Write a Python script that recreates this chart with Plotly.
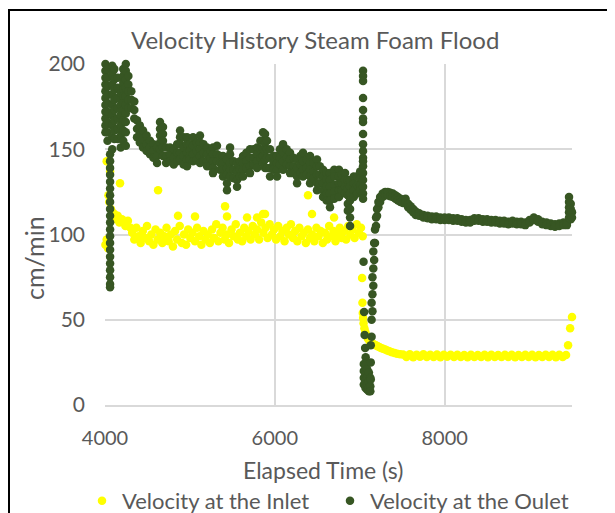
import plotly.graph_objects as go

# ---------------- data ----------------
outlet_time = [
    # start-up oscillation cluster
    4005, 4005, 4005, 4005, 4005, 4005, 4005, 4005, 4005, 4005, 4005,
    4030, 4030, 4030, 4030, 4030, 4030, 4030, 4030, 4030, 4030,
    4060, 4060, 4060, 4060, 4060, 4060, 4060, 4060, 4060, 4060, 4060, 4060, 4060, 4060, 4060, 4060, 4060, 4060, 4060, 4060, 4060,
    4085, 4085, 4085, 4085, 4085, 4085, 4085, 4085, 4085,
    4110, 4110, 4110, 4110, 4110, 4110, 4110, 4110,
    4150, 4150, 4150, 4150, 4150, 4150, 4150,
    4185, 4185, 4185, 4185, 4185, 4185,
    4215, 4215, 4215, 4215, 4215, 4215, 4215, 4215, 4215, 4215, 4215,
    4245, 4245, 4245, 4245, 4245, 4245, 4245, 4245, 4245, 4245,
    4275, 4275, 4275, 4275, 4275,
    # noisy decline
    4310, 4310, 4310, 4345, 4345, 4345, 4377, 4377, 4377, 4410, 4410, 4410,
    4448, 4448, 4448, 4490, 4490, 4490, 4530, 4530, 4530, 4570, 4570, 4570,
    4613, 4613, 4613, 4648, 4648, 4648, 4648, 4648, 4683, 4683, 4683, 4683, 4683,
    4720, 4720, 4720, 4766, 4766, 4766, 4810, 4810, 4810, 4850, 4850, 4850,
    4884, 4884, 4884, 4884, 4884, 4925, 4925, 4925, 4925, 4966, 4966, 4966, 4966, 4966,
    5000, 5000, 5000, 5000, 5037, 5037, 5037, 5037, 5080, 5080, 5080,
    5119, 5119, 5119, 5119, 5119, 5160, 5160, 5160, 5202, 5202, 5202, 5202, 5240, 5240, 5240,
    5272, 5272, 5272, 5272, 5272, 5319, 5319, 5319, 5355, 5355, 5355,
    5390, 5390, 5390, 5390, 5437, 5437, 5437, 5437, 5437, 5473, 5473, 5473, 5473, 5473,
    5515, 5515, 5515, 5555, 5555, 5555, 5555, 5590, 5590, 5590,
    5626, 5626, 5626, 5626, 5665, 5665, 5665, 5708, 5708, 5708, 5708, 5750, 5750, 5750,
    5791, 5791, 5791, 5791, 5830, 5830, 5830, 5861, 5861, 5861, 5861, 5861,
    5885, 5885, 5885, 5885, 5885, 5908, 5908, 5908, 5908, 5944, 5944, 5944, 5944, 5985, 5985, 5985,
    6026, 6026, 6026, 6026, 6060, 6060, 6060, 6097, 6097, 6097, 6097, 6140, 6140, 6140,
    6179, 6179, 6179, 6179, 6220, 6220, 6220, 6262, 6262, 6262, 6262, 6300, 6300, 6300,
    6332, 6332, 6332, 6332, 6375, 6375, 6375, 6415, 6415, 6415, 6415, 6415, 6455, 6455, 6455,
    6497, 6497, 6497, 6497, 6497, 6530, 6530, 6530, 6568, 6568, 6568, 6568, 6568,
    6610, 6610, 6610, 6610, 6610, 6650, 6650, 6650, 6650, 6650, 6650,
    6700, 6700, 6700, 6700, 6700, 6756, 6756, 6756, 6756, 6756, 6790, 6790, 6790,
    6827, 6827, 6827, 6827, 6860, 6860, 6860, 6860, 6860,
    6886, 6886, 6886, 6886, 6886, 6886, 6886, 6930, 6930, 6930, 6930,
    6969, 6969, 6969, 7005, 7005, 7005, 7005,
    # spike, collapse and recovery
    7039, 7039, 7039, 7039, 7039, 7039, 7039, 7039, 7039, 7039, 7039, 7039, 7039, 7039, 7039, 7039, 7039, 7039,
    7045, 7052, 7058, 7064, 7070,
    7048, 7048, 7048, 7048,
    7068, 7068, 7068, 7068,
    7088, 7088, 7088, 7088,
    7108, 7108, 7108, 7108,
    7125, 7125, 7125,
    7130, 7130, 7130, 7140, 7140, 7140, 7150, 7150, 7150, 7160, 7160, 7160,
    7170, 7170, 7180, 7180, 7192, 7192, 7204, 7204, 7220, 7220, 7240, 7240,
    7270, 7270, 7300, 7300, 7330, 7330, 7360, 7360, 7390, 7390, 7420, 7420, 7450, 7450,
    7480, 7480, 7510, 7510, 7540, 7540, 7570, 7570, 7600, 7600, 7630, 7630, 7660, 7660,
    7700, 7700, 7750, 7750, 7800, 7800, 7850, 7850, 7900, 7900, 7950, 7950, 8000, 8000,
    8050, 8050, 8100, 8100, 8150, 8150, 8200, 8200, 8250, 8250, 8300, 8300, 8350, 8350,
    8400, 8400, 8450, 8450, 8500, 8500, 8550, 8550, 8600, 8600, 8650, 8650, 8700, 8700,
    8750, 8750, 8800, 8800, 8850, 8850, 8900, 8900, 8950, 8950, 9000, 9000, 9050, 9050,
    9100, 9100, 9150, 9150, 9200, 9200, 9250, 9250, 9300, 9300, 9350, 9350, 9400, 9400,
    9440, 9440,
    9465, 9465, 9465, 9465, 9465,
    9485, 9485, 9485, 9485,
    9500, 9500,
]
outlet_velocity = [
    200, 196, 192, 188, 184, 180, 176, 172, 168, 164, 160,
    201, 197, 192, 187, 182, 177, 172, 166, 160, 155,
    147, 143, 139, 135, 131, 127, 123, 119, 115, 111, 107, 103, 99, 95, 91, 87, 83, 79, 75, 71, 69,
    199, 194, 188, 182, 176, 170, 164, 157, 150,
    197, 191, 185, 179, 173, 167, 161, 156,
    192, 186, 180, 174, 168, 162, 156,
    183, 176, 170, 164, 158, 151,
    201, 197, 193, 189, 185, 181, 177, 173, 167, 161, 155,
    200, 196, 191, 186, 181, 176, 171, 166, 160, 152,
    193, 188, 184, 179, 174,
    184, 179, 174, 178, 173, 168, 167, 162, 157, 164, 159, 154,
    161, 156, 151, 158, 153, 149, 155, 151, 147, 153, 149, 145,
    151, 146, 142, 166, 162, 158, 154, 150, 163, 159, 155, 151, 146,
    151, 146, 142, 151, 147, 143, 150, 145, 141, 153, 148, 143,
    161, 157, 153, 148, 144, 157, 151, 146, 141, 157, 153, 148, 144, 140,
    153, 149, 146, 144, 157, 152, 147, 143, 154, 149, 144,
    158, 154, 150, 146, 142, 153, 148, 143, 151, 147, 143, 140, 149, 145, 140,
    151, 147, 143, 139, 136, 152, 147, 143, 146, 142, 138,
    146, 142, 138, 134, 144, 139, 135, 130, 126, 151, 147, 142, 138, 134,
    143, 138, 133, 142, 137, 132, 128, 143, 138, 134,
    146, 142, 138, 134, 148, 143, 139, 150, 145, 140, 136, 150, 145, 141,
    151, 147, 143, 139, 155, 150, 145, 160, 155, 150, 146, 142,
    159, 154, 149, 144, 139, 155, 150, 145, 139, 150, 145, 139, 134, 146, 142, 138,
    146, 142, 138, 134, 150, 145, 141, 153, 148, 143, 138, 150, 145, 141,
    148, 144, 140, 136, 145, 140, 136, 144, 139, 134, 130, 146, 141, 136,
    148, 143, 138, 134, 144, 139, 135, 146, 142, 138, 134, 130, 142, 137, 133,
    144, 140, 135, 130, 126, 140, 135, 130, 138, 134, 130, 126, 122,
    136, 132, 128, 124, 120, 136, 132, 128, 124, 120, 116,
    138, 134, 129, 125, 121, 138, 134, 130, 126, 122, 135, 130, 126,
    136, 132, 128, 124, 132, 127, 123, 118, 114,
    132, 128, 124, 120, 115, 110, 105, 134, 130, 126, 122,
    134, 129, 124, 137, 133, 129, 126,
    196, 193, 190, 180, 173, 168, 166, 159, 153, 149, 145, 143, 140, 136, 132, 128, 124, 121,
    84, 54.5, 41, 33.4, 28,
    24, 20, 16, 12,
    23, 18, 14, 10,
    21, 16, 12, 9,
    19, 14, 10, 8,
    16, 11, 8,
    15, 25, 35, 40, 50, 60, 55, 65, 75, 70, 80, 90,
    85, 95, 95, 103, 105, 110, 111, 115, 116, 119, 119, 122,
    124, 122, 125, 123, 125, 123, 124.5, 122.5, 124, 122, 123, 121, 122, 120,
    121, 119, 120.5, 118.5, 121, 119, 118, 116, 116.5, 114.5, 115, 113, 113.5, 111.5,
    112.5, 111, 111.5, 110, 111, 109.5, 110.5, 109, 110.5, 109, 110, 108.5, 110, 108.5,
    110, 108.5, 109.5, 108, 109.5, 108, 109, 107.5, 108.5, 107, 108.5, 107, 109.5, 108,
    109.5, 108, 109, 107.5, 109, 107.5, 108.5, 107, 108.5, 107, 108, 106.5, 108, 106.5,
    107.5, 106, 108, 106.5, 107.5, 106, 107.5, 106, 107, 105.5, 108.5, 107, 110, 108.5,
    109, 107.5, 107.5, 106, 107, 105.5, 106.5, 105, 106, 104.5, 106.5, 105, 107, 105.5,
    107, 105.5,
    122, 119, 116, 113, 110,
    118, 115, 112, 109,
    113, 110,
]

inlet_time = [
    4005, 4020, 4035, 4020, 4060, 4040, 4050, 4070, 4085, 4177, 4110, 4130, 4150, 4170, 4200, 4240, 4270, 4300,
    4625, 4860, 5060, 5414, 5437, 5673, 5791, 5861, 5885, 6391, 6438, 6698,
    4320, 4345, 4370, 4395, 4420, 4445, 4470, 4495, 4520, 4545, 4570, 4595, 4620, 4650, 4675, 4700,
    4725, 4750, 4775, 4800, 4825, 4850, 4880, 4905, 4930, 4955, 4980, 5005, 5030, 5060, 5085, 5110,
    5135, 5160, 5185, 5210, 5235, 5260, 5285, 5310, 5335, 5360, 5385, 5410, 5435, 5460, 5490, 5515,
    5540, 5565, 5590, 5615, 5640, 5665, 5690, 5715, 5740, 5765, 5790, 5815, 5840, 5865, 5890, 5915,
    5940, 5965, 5990, 6015, 6040, 6065, 6090, 6115, 6140, 6165, 6190, 6215, 6240, 6265, 6290, 6315,
    6340, 6365, 6390, 6415, 6440, 6465, 6490, 6515, 6540, 6565, 6590, 6615, 6640, 6665, 6690, 6715,
    6740, 6765, 6790, 6815, 6840, 6865, 6890, 6915, 6940, 6965, 6990, 7015, 7035,
    7028, 7032, 7036, 7040, 7045, 7055, 7065, 7080, 7095, 7110, 7130, 7150, 7170, 7190, 7210, 7230,
    7250, 7275, 7300, 7325, 7350, 7380, 7410, 7440, 7475,
    7510, 7550, 7590, 7630, 7670, 7710, 7750, 7790, 7830, 7870, 7910, 7950, 7990, 8030, 8070, 8110,
    8150, 8190, 8230, 8270, 8310, 8350, 8390, 8430, 8470, 8510, 8550, 8590, 8630, 8670, 8710, 8750,
    8790, 8830, 8870, 8910, 8950, 8990, 9030, 9070, 9110, 9150, 9190, 9230, 9270, 9310, 9350, 9390,
    9430,
    9454, 9478, 9500,
]
inlet_velocity = [
    94, 97, 92, 143, 137, 123, 119, 115, 113, 130, 112, 109, 111, 107, 109, 105, 108, 104,
    126, 111, 110.5, 116.5, 110.5, 110, 110, 112, 112, 123, 112, 110,
    101, 97, 104, 99, 95, 102, 98, 105, 96, 100, 94, 103, 97, 101, 95, 99,
    104, 96, 100, 93, 102, 97, 105, 95, 100, 94, 103, 98, 101, 96, 104, 99,
    94, 102, 97, 100, 95, 103, 98, 106, 96, 101, 104, 97, 100, 95, 103, 99,
    106, 97, 101, 96, 104, 99, 102, 97, 105, 100, 103, 97, 107, 101, 104, 98,
    106, 100, 103, 97, 105, 99, 102, 96, 104, 100, 106, 98, 102, 96, 104, 99,
    101, 95, 103, 98, 100, 96, 104, 99, 102, 95, 101, 97, 105, 99, 102, 96,
    100, 104, 98, 102, 97, 105, 100, 103, 98, 106, 101, 104, 99,
    74.5, 60, 54, 51, 48, 45, 43, 41, 39, 38, 37, 36, 35.5, 35, 34.5, 34,
    33.5, 33, 32.5, 32, 31.5, 31, 30.5, 30, 29.8,
    29.6, 28.2, 29.8, 28.0, 29.5, 28.3, 29.7, 28.1, 29.4, 28.2, 29.6, 28.0, 29.5, 28.3, 29.4, 28.1,
    29.5, 28.2, 29.3, 28.0, 29.4, 28.2, 29.3, 28.1, 29.5, 28.0, 29.4, 28.2, 29.3, 28.1, 29.5, 28.2,
    29.4, 28.0, 29.3, 28.2, 29.5, 28.1, 29.4, 28.0, 29.3, 28.2, 29.4, 28.1, 29.5, 28.0, 29.4, 28.2,
    29.3,
    35, 45, 51.6,
]

x_ticks = [4000, 6000, 8000]
y_ticks = [0, 50, 100, 150, 200]

# ---------------- styling ----------------
FONT = "Lato"
TEXT = "#595959"
GRID = "#D9D9D9"
GREEN = "#375623"
YELLOW = "#FFFF00"

OFF = 8  # page body margin offsets the figure by 8 px
W, H = 615, 560  # figure taller than the window so the legend never pushes the margins
L, T = 105 - OFF, 64 - OFF
PLOT_R, PLOT_B = 572 - OFF, 405 - OFF
R, B = W - PLOT_R, H - PLOT_B
PW, PH = W - L - R, H - T - B


def px(x):
    return (x - OFF - L) / PW


def py(y):
    return (H - B - (y - OFF)) / PH


fig = go.Figure()
fig.add_trace(go.Scatter(
    x=inlet_time, y=inlet_velocity, mode="markers", name="Velocity at the Inlet",
    marker=dict(color=YELLOW, size=8.5, line=dict(width=0)), cliponaxis=False,
))
fig.add_trace(go.Scatter(
    x=outlet_time, y=outlet_velocity, mode="markers", name="Velocity at the Oulet",
    marker=dict(color=GREEN, size=8.5, line=dict(width=0)), cliponaxis=False,
))

fig.update_layout(
    width=W, height=H,
    margin=dict(l=L, r=R, t=T, b=B, pad=0),
    paper_bgcolor="white", plot_bgcolor="white",
    font=dict(family=FONT, color=TEXT, size=20),
    showlegend=True,
    legend=dict(
        orientation="h", x=px(82), xanchor="left", y=py(501), yanchor="middle",
        font=dict(family=FONT, size=22, color=TEXT), bgcolor="rgba(0,0,0,0)",
        itemwidth=30, entrywidth=203, tracegroupgap=0,
    ),
    xaxis=dict(
        range=[4000, 9500], tickvals=x_ticks, ticktext=[str(v) for v in x_ticks],
        showgrid=True, gridcolor=GRID, gridwidth=1.5, zeroline=False,
        showline=True, linecolor=GRID, linewidth=1.5, ticks="",
        ticklabelstandoff=14, tickfont=dict(family=FONT, size=20, color=TEXT),
    ),
    yaxis=dict(
        range=[0, 200], tickvals=y_ticks, ticktext=[str(v) for v in y_ticks],
        showgrid=True, gridcolor=GRID, gridwidth=1.5, zeroline=False,
        showline=False, ticks="",
        ticklabelstandoff=19, tickfont=dict(family=FONT, size=21, color=TEXT),
    ),
    annotations=[
        dict(text="Velocity History Steam Foam Flood", xref="paper", yref="paper",
             x=px(315), y=py(39), xanchor="center", yanchor="middle", showarrow=False,
             font=dict(family=FONT, size=24, color=TEXT)),
        dict(text="Elapsed Time (s)", xref="paper", yref="paper",
             x=px(323), y=py(470), xanchor="center", yanchor="middle", showarrow=False,
             font=dict(family=FONT, size=23, color=TEXT)),
        dict(text="cm/min", xref="paper", yref="paper", textangle=-90,
             x=px(34), y=py(258), xanchor="center", yanchor="middle", showarrow=False,
             font=dict(family=FONT, size=25, color=TEXT)),
    ],
    shapes=[
        dict(type="rect", xref="paper", yref="paper",
             x0=px(9), x1=px(660), y0=py(600), y1=py(10),
             line=dict(color="black", width=2), fillcolor="rgba(0,0,0,0)", layer="above"),
    ],
)

fig.write_html("out.html")
